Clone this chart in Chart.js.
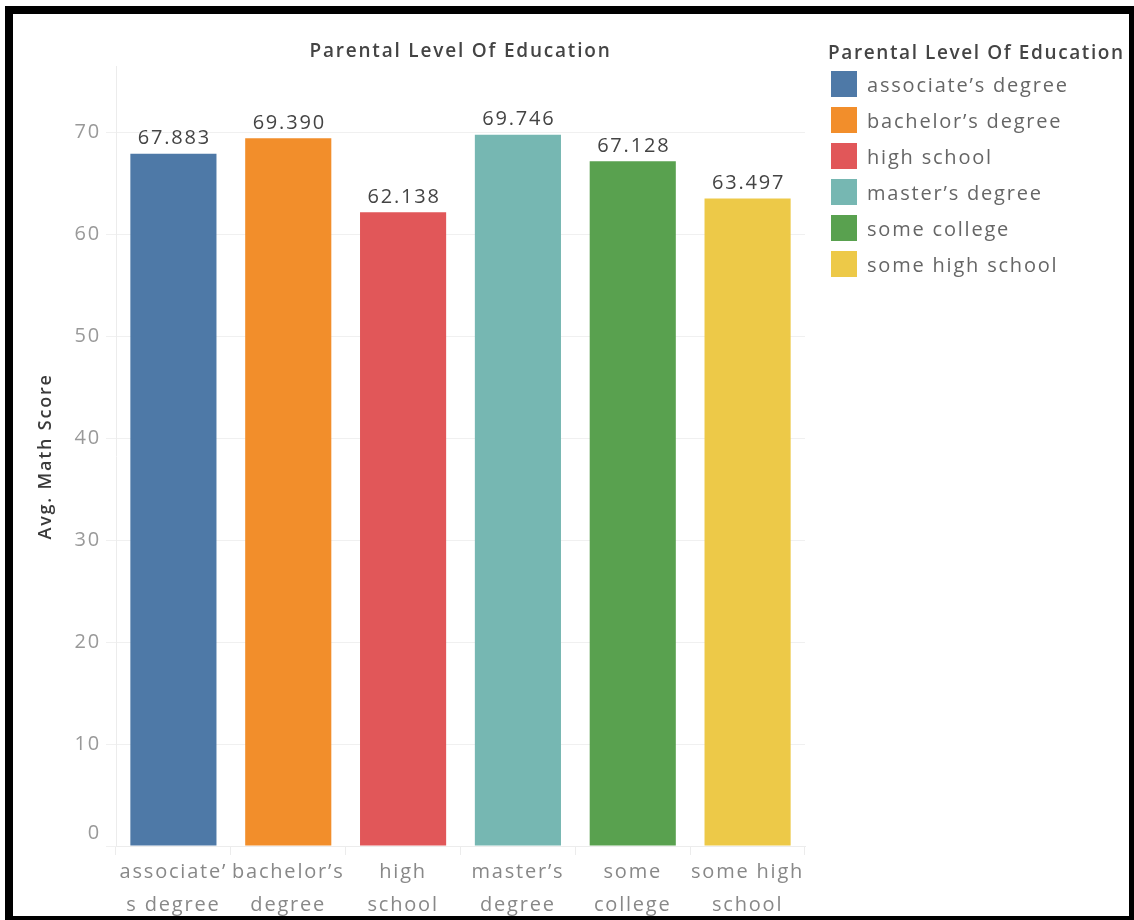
<!DOCTYPE html>
<html>
<head>
<meta charset="utf-8">
<script src="https://cdn.jsdelivr.net/npm/chart.js@4/dist/chart.umd.min.js"></script>
<style>
  html, body { margin: 0; padding: 0; background: #fff; overflow: hidden; }
  #wrap { position: relative; width: 1134px; height: 920px; }
  #frame {
    position: absolute; left: 5px; top: 6px; width: 1132px; height: 918px;
    box-sizing: border-box; border: 8px solid #000; z-index: 3; pointer-events: none;
  }
  #legend {
    position: absolute; left: 828px; top: 38px; width: 301px; overflow: hidden;
    font-family: "Open Sans", sans-serif; z-index: 2;
  }
  #legend .title { font-size: 19px; font-weight: 600; color: #444; height: 28px; line-height: 28px; white-space: nowrap; letter-spacing: 1.6px; }
  #legend .row { display: flex; align-items: center; height: 36px; }
  #legend .swatch { width: 26px; height: 26px; margin-left: 3px; margin-right: 10px; }
  #legend .label { font-size: 20px; color: #666; white-space: nowrap; letter-spacing: 1.8px; }
</style>
</head>
<body>
<div id="wrap">
  <canvas id="eduChart" width="1134" height="920"></canvas>
  <div id="legend"></div>
  <div id="frame"></div>
</div>
<script>
const categories = ["associate’s degree", "bachelor’s degree", "high school", "master’s degree", "some college", "some high school"];
const xTickLabels = [["associate’", "s degree"], ["bachelor’s", "degree"], ["high", "school"], ["master’s", "degree"], ["some", "college"], ["some high", "school"]];
const avgMathScores = [67.883, 69.390, 62.138, 69.746, 67.128, 63.497];
const barColors = ["#4e79a7", "#f28e2b", "#e15759", "#76b7b2", "#59a14f", "#edc948"];

const FONT = '"Open Sans", sans-serif';
const SPACING = '1.8px';

// legend on the right
const legendBox = document.getElementById('legend');
legendBox.innerHTML = '<div class="title">Parental Level Of Education</div>';
categories.forEach((cat, i) => {
    const row = document.createElement('div');
    row.className = 'row';
    row.innerHTML = `<span class="swatch" style="background:${barColors[i]}"></span><span class="label">${cat}</span>`;
    legendBox.appendChild(row);
});

// wider text, closer to the original font
const wideText = {
    id: 'wideText',
    beforeUpdate(chart) { chart.ctx.letterSpacing = SPACING; },
    beforeDraw(chart) { chart.ctx.letterSpacing = SPACING; }
};

// tableau nudges the bottom "0" label up so it sits inside the axis
const zeroLabel = {
    id: 'zeroLabel',
    afterDraw(chart) {
        const y = chart.scales.y;
        const ctx = chart.ctx;
        ctx.save();
        ctx.font = '20px ' + FONT;
        ctx.fillStyle = '#999';
        ctx.textAlign = 'right';
        ctx.textBaseline = 'middle';
        ctx.fillText('0', y.right - 15, y.getPixelForValue(0) - 13);
        ctx.restore();
    }
};

const valueLabels = {
    id: 'valueLabels',
    afterDatasetsDraw(chart) {
        const ctx = chart.ctx;
        const meta = chart.getDatasetMeta(0);
        ctx.save();
        ctx.font = '20px ' + FONT;
        ctx.fillStyle = '#444';
        ctx.textAlign = 'center';
        ctx.textBaseline = 'bottom';
        meta.data.forEach((bar, i) => {
            ctx.fillText(avgMathScores[i].toFixed(3), bar.x + 1, bar.y - 5);
        });
        ctx.restore();
    }
};

new Chart(document.getElementById('eduChart'), {
    type: 'bar',
    data: {
        labels: xTickLabels,
        datasets: [{
            label: 'Avg. Math Score',
            data: avgMathScores,
            backgroundColor: barColors,
            borderWidth: 0,
            categoryPercentage: 1,
            barPercentage: 0.75
        }]
    },
    options: {
        responsive: false,
        animation: false,
        layout: { padding: { top: 14, right: 329, bottom: 0, left: 0 } },
        plugins: {
            legend: { display: false },
            tooltip: { enabled: false },
            title: {
                display: true,
                text: 'Parental Level Of Education',
                fullSize: false,
                color: '#444',
                font: { family: FONT, size: 19, weight: '600', lineHeight: 1.2 },
                padding: { top: 26, bottom: 4 }
            }
        },
        scales: {
            x: {
                afterFit: s => { s.height = 74; },
                grid: { drawOnChartArea: false, drawTicks: true, tickLength: 9, color: '#ececec', offset: true },
                border: { color: '#ececec' },
                ticks: {
                    color: '#888',
                    padding: 1,
                    maxRotation: 0,
                    autoSkip: false,
                    font: { family: FONT, size: 20, lineHeight: 1.65 }
                }
            },
            y: {
                min: 0,
                max: 76.4,
                afterFit: s => { s.width = 116; },
                afterBuildTicks: s => { s.ticks = s.ticks.filter(t => t.value % 10 === 0); },
                grid: { color: '#f0f0f0', tickLength: 10 },
                border: { color: '#ececec' },
                ticks: {
                    stepSize: 10,
                    color: '#999',
                    padding: 5,
                    font: { family: FONT, size: 20 },
                    callback: v => (v === 0 ? '' : v)
                },
                title: {
                    display: true,
                    text: 'Avg. Math Score',
                    color: '#3a3a3a',
                    font: { family: FONT, size: 18, weight: '600', lineHeight: 1.2 },
                    padding: { top: 35, bottom: 0 }
                }
            }
        }
    },
    plugins: [wideText, zeroLabel, valueLabels]
});
</script>
</body>
</html>
